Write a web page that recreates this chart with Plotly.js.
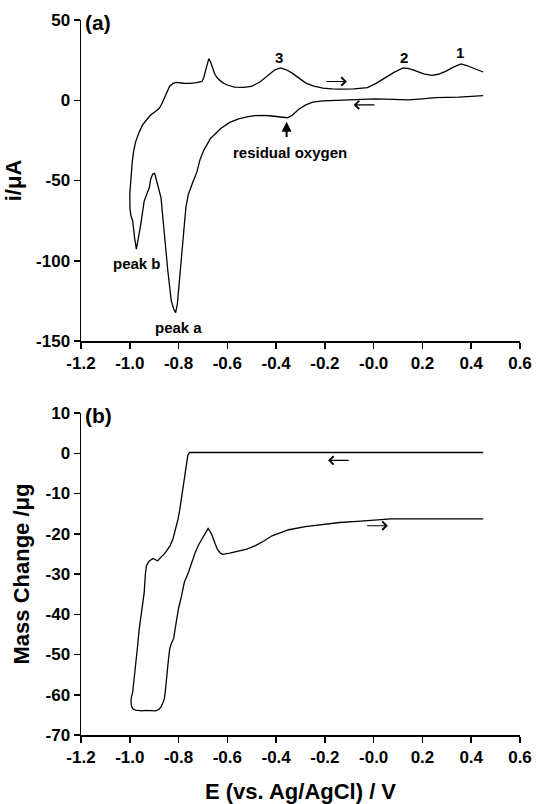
<!DOCTYPE html>
<html>
<head>
<meta charset="utf-8">
<script src="https://cdn.plot.ly/plotly-3.0.1.min.js"></script>
<style>html,body{margin:0;padding:0;background:#fff;}#chart{width:538px;height:804px;}</style>
</head>
<body>
<div id="chart"></div>
<script>
// ---- Panel (a): cyclic voltammogram, current (µA) vs potential (V) ----
const cvPotential = [
  0.449,0.42,0.393,0.35,0.30,0.253,0.2,0.142,0.08,0.002,-0.07,-0.138,-0.208,-0.25,-0.278,-0.306,-0.336,-0.354,-0.38,-0.417,-0.45,-0.487,-0.52,-0.557,-0.59,-0.627,-0.669,-0.697,-0.712,-0.725,-0.740,-0.753,-0.760,-0.770,-0.781,-0.795,-0.805,-0.812,-0.820,-0.830,-0.844,-0.858,-0.872,-0.886,-0.898,-0.906,-0.914,-0.920,-0.941,-0.955,-0.966,-0.973,-0.980,-0.988,-0.995,-0.999,
  -1.0,-0.998,-0.995,-0.990,-0.984,-0.976,-0.962,-0.948,-0.93,-0.914,-0.895,-0.879,-0.868,-0.858,-0.848,-0.837,-0.823,-0.809,-0.78,-0.753,-0.725,-0.704,-0.697,-0.690,-0.683,-0.676,-0.669,-0.662,-0.652,-0.641,-0.62,-0.60,-0.571,-0.535,-0.501,-0.465,-0.431,-0.405,-0.382,-0.358,-0.334,-0.305,-0.278,-0.245,-0.208,-0.17,-0.138,-0.08,-0.026,0.01,0.044,0.085,0.121,0.145,0.170,0.205,0.239,0.265,0.295,0.325,0.358,0.385,0.407,0.43,0.449
];
const cvCurrent = [
  2.9,2.6,2.3,1.9,1.8,1.7,0.9,0.2,0.6,0.8,0.4,0.0,-0.4,-1.2,-2.9,-5.4,-9.6,-10.9,-10.3,-9.8,-9.4,-9.6,-10.3,-11.7,-13.8,-17.6,-23.8,-31.2,-37,-44.8,-50.5,-55.2,-58.7,-66.9,-87.6,-112.4,-127,-132.3,-130,-124.8,-106.2,-83.5,-60.7,-52.5,-45.5,-46,-49,-54.5,-62.8,-77.3,-88,-92.8,-86,-75.2,-72,-68,
  -58.7,-55,-45,-38.5,-31.5,-25.9,-20,-15.5,-12,-9.2,-7,-5.0,-2,1.3,5,8.6,10.5,11.1,10.6,10.5,11.0,11.7,14,18,23,25.9,24,21.1,16.5,13.8,11,9.5,8.2,8,8.6,11.5,15.9,19,20.1,19,16.9,13.5,10.7,8.8,7.5,7.1,6.9,7.1,7.9,10.5,13.8,17.5,20.1,19.7,18.4,16.5,15.5,16.2,18,20.5,22.6,21.5,20.1,18.6,17.6
];

// ---- Panel (b): mass change (µg) vs potential (V) ----
const massPotential = [
  0.449,0.3,0.1,-0.1,-0.3,-0.5,-0.7,-0.755,-0.762,-0.767,-0.772,-0.776,-0.781,-0.788,-0.795,-0.802,-0.812,-0.823,-0.835,-0.844,-0.858,-0.872,-0.886,-0.898,-0.906,-0.914,-0.922,-0.932,-0.936,-0.941,-0.948,-0.955,-0.962,-0.969,-0.979,-0.984,-0.988,-0.993,-0.995,-0.993,-0.988,-0.976,-0.95,-0.934,-0.915,-0.893,-0.880,-0.872,-0.864,-0.858,-0.854,-0.851,-0.846,-0.841,-0.836,-0.830,-0.820,-0.815,-0.809,-0.80,-0.788,-0.776,-0.760,-0.745,-0.732,-0.718,-0.704,-0.690,-0.679,-0.670,-0.662,-0.650,-0.641,-0.630,-0.620,-0.59,-0.557,-0.52,-0.487,-0.45,-0.417,-0.38,-0.348,-0.28,-0.208,-0.14,-0.068,0.0,0.072,0.2,0.35,0.449
];
const massChange = [
  0.2,0.2,0.2,0.2,0.2,0.2,0.2,0.2,-0.5,-2.6,-5.5,-7.2,-8.2,-11.3,-14,-16.3,-19,-21.3,-23,-23.8,-25,-25.8,-26.75,-26.3,-26.2,-26.5,-26.9,-28,-30,-34.7,-38,-40.2,-44,-48.5,-55.1,-58,-59.3,-60.5,-61.5,-62.8,-63.5,-63.8,-64,-63.9,-64,-64,-63.6,-63,-62,-60.9,-59,-57.6,-54,-51,-48.5,-47.3,-46,-44,-41.9,-38.5,-35.5,-32,-29.7,-27,-24.7,-22.8,-21.3,-19.8,-18.7,-19.5,-20.5,-22.5,-23.8,-24.7,-25.1,-24.8,-24.3,-23.8,-23,-21.8,-20.5,-19.6,-19,-18.2,-17.6,-17.2,-16.9,-16.6,-16.3,-16.3,-16.3,-16.3
];

const xTickVals = [-1.2,-1.0,-0.8,-0.6,-0.4,-0.2,0.0,0.2,0.4,0.6];
const xTickText = ["-1.2","-1.0","-0.8","-0.6","-0.4","-0.2","-0.0","0.2","0.4","0.6"];
const yTopVals = [-150,-100,-50,0,50];
const yTopText = ["-150","-100","-50","0","50"];
const yBotVals = [-70,-60,-50,-40,-30,-20,-10,0,10];
const yBotText = ["-70","-60","-50","-40","-30","-20","-10","0","10"];

const FONT = "Liberation Sans, Arial, Helvetica, sans-serif";
const tickFont = {family: FONT, size: 17, color: "#000", weight: "bold"};
const titleFont = {family: FONT, size: 22, color: "#000", weight: "bold"};
const annFont = {family: FONT, size: 15, color: "#000", weight: "bold"};
const bold = arr => arr.map(s => "<b>" + s + "</b>");

const axisBase = {
  showline: true, linecolor: "#000", linewidth: 1.5,
  ticks: "outside", ticklen: 6, tickwidth: 1.5, tickcolor: "#000",
  showgrid: false, zeroline: false, tickfont: tickFont, automargin: false
};

const traces = [
  {x: cvPotential, y: cvCurrent, xaxis: "x", yaxis: "y", type: "scatter", mode: "lines",
   line: {color: "#000", width: 1.3}, hoverinfo: "skip"},
  {x: massPotential, y: massChange, xaxis: "x2", yaxis: "y2", type: "scatter", mode: "lines",
   line: {color: "#000", width: 1.3}, hoverinfo: "skip"}
];

function label(text, x, y, xr, yr) {
  return {text: text, x: x, y: y, xref: xr, yref: yr, showarrow: false,
          font: annFont, xanchor: "center", yanchor: "middle"};
}
function arrow(x0, x1, y0, y1, xr, yr, head, w) {
  return {text: "", x: x1, y: y1, ax: x0, ay: y0, xref: xr, yref: yr, axref: xr, ayref: yr,
          showarrow: true, arrowhead: head, arrowsize: head === 4 ? 1.5 : 1.0, arrowwidth: w, arrowcolor: "#000"};
}

const annotations = [
  {text: "(a)", x: 0.005, y: 0.997, xref: "paper", yref: "paper", xanchor: "left", yanchor: "middle",
   showarrow: false, font: Object.assign({}, annFont, {size: 21})},
  {text: "(b)", x: 0.005, y: 0.4475, xref: "paper", yref: "paper", xanchor: "left", yanchor: "middle",
   showarrow: false, font: Object.assign({}, annFont, {size: 21})},
  label("3", -0.387, 26.8, "x", "y"),
  label("2", 0.123, 26.4, "x", "y"),
  label("1", 0.355, 29.5, "x", "y"),
  label("residual oxygen", -0.345, -32.6, "x", "y"),
  label("peak b", -0.972, -101.8, "x", "y"),
  label("peak a", -0.80, -141.3, "x", "y"),
  arrow(-0.201, -0.110, 11.7, 11.7, "x", "y", 4, 1.1),
  arrow(0.009, -0.082, -2.9, -2.9, "x", "y", 4, 1.1),
  arrow(-0.357, -0.357, -23.8, -13.4, "x", "y", 2, 2),
  arrow(-0.096, -0.187, -1.75, -1.75, "x2", "y2", 4, 1.1),
  arrow(-0.033, 0.058, -18, -18, "x2", "y2", 4, 1.1)
];

const layout = {
  width: 538, height: 804,
  margin: {l: 81, r: 18, t: 20, b: 69},
  paper_bgcolor: "#fff", plot_bgcolor: "#fff",
  showlegend: false,
  font: {family: FONT, color: "#000"},
  xaxis: Object.assign({}, axisBase, {domain: [0, 1], anchor: "y", range: [-1.2, 0.6],
    tickmode: "array", tickvals: xTickVals, ticktext: bold(xTickText)}),
  yaxis: Object.assign({}, axisBase, {domain: [0.551, 1], anchor: "x", range: [-150, 50],
    tickmode: "array", tickvals: yTopVals, ticktext: bold(yTopText),
    title: {text: "<b>i/μA</b>", font: titleFont, standoff: 8}}),
  xaxis2: Object.assign({}, axisBase, {domain: [0, 1], anchor: "y2", range: [-1.2, 0.6],
    tickmode: "array", tickvals: xTickVals, ticktext: bold(xTickText),
    title: {text: "<b>E (vs. Ag/AgCl) / V</b>", font: titleFont, standoff: 17}}),
  yaxis2: Object.assign({}, axisBase, {domain: [0, 0.4503], anchor: "x2", range: [-70, 10],
    tickmode: "array", tickvals: yBotVals, ticktext: bold(yBotText),
    title: {text: "<b>Mass Change /μg</b>", font: titleFont, standoff: 10}}),
  annotations: annotations
};

Plotly.newPlot("chart", traces, layout, {displayModeBar: false, staticPlot: true});
</script>
</body>
</html>
